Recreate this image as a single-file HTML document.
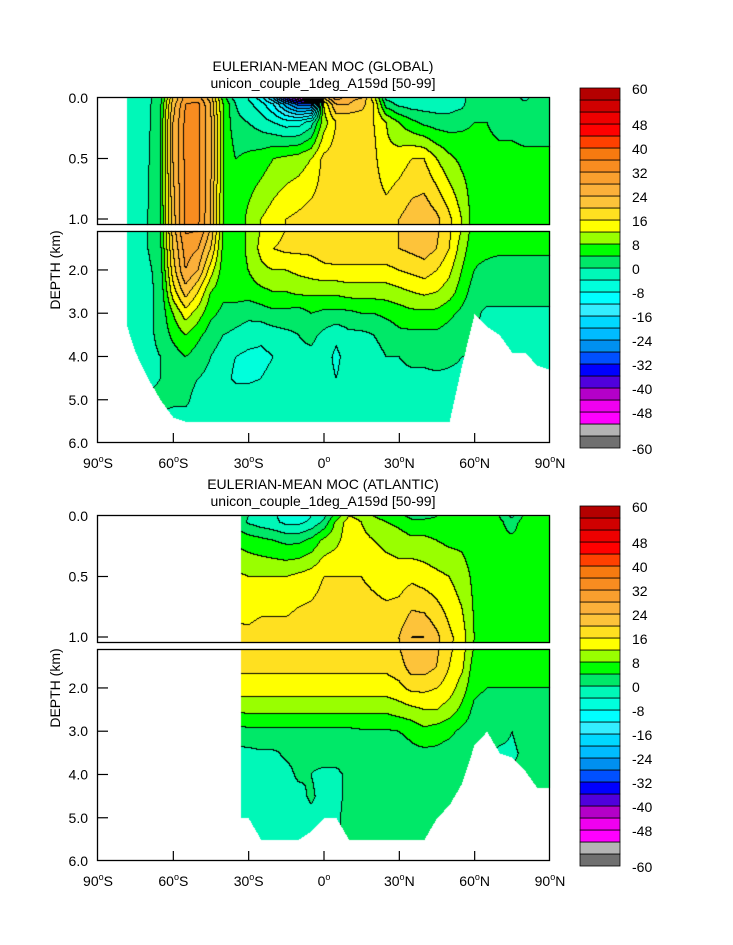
<!DOCTYPE html>
<html><head><meta charset="utf-8">
<style>
body{margin:0;background:#fff;width:733px;height:945px;overflow:hidden;position:relative;font-family:"Liberation Sans",sans-serif;color:#000}
canvas,svg{position:absolute;left:0;top:0}
</style></head><body>
<canvas id="cv" width="733" height="945"></canvas>
<svg id="sv" width="733" height="945"></svg>
<script>
// ---- data ----
const lats=[-90,-85,-80,-75,-70,-65,-60,-55,-50,-45,-40,-35,-30,-25,-20,-15,-10,-5,0,5,10,15,20,25,30,35,40,45,50,55,60,65,70,75,80,85,90];
const depths=[0,0.05,0.2,0.5,1.0,1.5,2.0,2.5,3.0,3.5,4.0,4.5,5.0,5.5];
const levelTicks=[60,48,40,32,24,16,8,0,-8,-16,-24,-32,-40,-48,-60];
const latTicks=["90","60","30","0","30","60","90"];
const globalStart=-78.4;
const globalBottom=[0,0,3.0,3.9,4.5,5.0,5.4,5.5,5.5,5.5,5.5,5.5,5.5,5.5,5.5,5.5,5.5,5.5,5.5,5.5,5.5,5.5,5.5,5.5,5.5,5.5,5.5,5.5,5.5,4.2,3.0,3.3,3.5,3.9,3.9,4.2,4.3];
const globalVals=[
[0,0,0,-1,-1,2,20,30,30,22,6,-2,-4,-10,-20,-35,-45,-55,20,30,25,24,14,-1,-2,-2,-2,-2,-2,-1,2,2,2,2,-1,2,2],
[0,0,0,-1,-1,3,22,32,33,24,8,0,-3,-6,-12,-22,-30,-30,12,24,24,22,16,2,-1,-2,-2,-2,-2,-1,3,3,2,2,1,2,2],
[0,0,0,-1,-1,4,24,33,33,25,8,1,0,-2,-4,-6,-6,-2,10,16,16,16,16,12,8,5,3,2,2,3,4,4,3,3,2,2,2],
[0,0,0,-1,-0.5,4,24,33,33,25,8,4,5,6,8,9,10,12,17,18,18,17,17,13,14,16,16,12,9,7,6,5,5,5,5,5,5],
[0,0,0,-1,0,4,22,33,33,24,8,5,9,12,14,16,17,18,18,19,19,19,18,18,20,22,23,21,17,12,6,5,5,5,5,5,5],
[0,0,0,-2,0,3,20,30,28,20,7,5,9,13,16,17,17,17,18,19,19,19,19,19,20,21,22,20,16,10,5,5,5,5,5,5,5],
[0,0,0,-2,-1,2,18,28,24,14,6,5,8,11,12,12,13,14,15,15,15,15,15,15,16,17,18,16,13,8,4,3,2,2,2,2,2],
[0,0,0,-2,-1,1,14,22,16,8,5,6,6,7,8,8,9,9,9,9,10,10,10,10,11,12,13,12,10,6,2,2,2,2,2,2,2],
[0,0,0,-2,-1,1,8,14,10,5,3,2,1,2,3,3,2,4,3,3,3,4,4,5,6,7,7,7,5,3,1,-1,-1,-1,-1,-1,-1],
[0,0,0,-2,-1,1,5,8,5,2,0,-1,-2,-3,-2,-1,0,1,-1,-3,-1,-1,0,1,3,3,3,3,2,1,0,-1,-1,-1,-1,-1,-1],
[0,0,0,-2,-1,0,2,4,2,0,-2,-4,-5,-5,-4,-2,-1,-1,-2,-5,-2,-1,-1,0,0,1,1,2,1,0,0,-1,-1,-1,-1,-1,-1],
[0,0,0,-2,-1,0,1,1,0,-1,-2,-5,-5,-4,-3,-2,-1,-1,-2,-4,-2,-1,-1,-1,-1,-1,-1,-1,-1,-1,-1,-1,-1,-1,-1,-1,-1],
[0,0,0,-2,0.5,1,0.5,0.5,-1,-1,-1,-1,-1,-1,-1,-1,-1,-1,-1,-1,-1,-1,-1,-1,-1,-1,-1,-1,-1,-1,-1,-1,-1,-1,-1,-1,-1],
[0,0,0,-1,-1,-1,-1,-1,-1,-1,-1,-1,-1,-1,-1,-1,-1,-1,-1,-1,-1,-1,-1,-1,-1,-1,-1,-1,-1,-1,-1,-1,-1,-1,-1,-1,-1]];
const atlStart=-33.2;
const atlBottom=[0,0,0,0,0,0,0,0,0,0,5.0,5.0,5.0,5.5,5.5,5.5,5.5,5.3,5.0,5.0,5.5,5.5,5.5,5.5,5.5,5.5,5.5,5.0,4.7,4.2,3.3,3.0,3.5,3.6,3.9,4.3,4.3];
const atlVals=[
[0,0,0,0,0,0,0,0,0,0,2,2,0,-2,-3,-6,-7,-4,-1,6,12,11,8,6,5,3,3,4,4,5,5,5,4,-1,5,5,5],
[0,0,0,0,0,0,0,0,0,0,3,3,-0.5,-2,-3,-5,-5,-3,1,9,14,12,10,8,7,5,5,5,5,6,6,6,5,2,6,6,6],
[0,0,0,0,0,0,0,0,0,0,7,7,6,5,4,3,3,5,9,11,14,13,12,11,10,9,9,8,7,7,6,6,5,5,6,6,6],
[0,0,0,0,0,0,0,0,0,0,13,13,12,12,12,12,13,14,16,16,16,16,15,14,14,15,14,13,12,10,7,6,6,6,6,6,6],
[0,0,0,0,0,0,0,0,0,0,17,17,17,18,18,18,19,19,19,19,19,19,19,19,20,24,24,21,17,14,8,5,5,5,5,5,5],
[0,0,0,0,0,0,0,0,0,0,17,17,17,17,17,17,17,17,17,17,17,17,17,17,18,22,22,20,16,13,6,5,5,5,5,5,5],
[0,0,0,0,0,0,0,0,0,0,14,14,14,14,14,14,14,14,14,14,14,14,14,14,15,17,17,16,14,10,5,4,4,4,4,4,4],
[0,0,0,0,0,0,0,0,0,0,9,9,9,9,9,9,9,9,9,9,9,9,9,9,10,11,12,12,10,7,3,2,2,2,2,2,2],
[0,0,0,0,0,0,0,0,0,0,2,2,3,3,3,3,3,3,3,3,3,3.5,3.5,3.5,4,5,7,6,5,3,2,2,2,0,2,1,2],
[0,0,0,0,0,0,0,0,0,0,-1,-1,-1,-0.5,-0.5,0.5,1,1,2,2,2,2,2,2,2,3,3,3,2,2,1,1,-1,-1,1,1,1],
[0,0,0,0,0,0,0,0,0,0,-1,-1,-1,-1,-0.5,-1,0.5,0,-1,-1,1,2,2,2,2,2,2,2,2,1.5,1,1,1,1,1,1,1],
[0,0,0,0,0,0,0,0,0,0,-1,-1,-1,-1,-1,-1,-1,0.5,-1,-1,1,1.5,1.5,1.5,1.5,1.5,1.5,1,1,1,1,1,1,1,1,1,1],
[0,0,0,0,0,0,0,0,0,0,-1,-1,-1,-1,-1,-1,-1,-1,-1,-0.5,1,1,1,1,1,1,1,1,1,1,1,1,1,1,1,1,1],
[0,0,0,0,0,0,0,0,0,0,-1,-1,-1,-1,-1,-1,-1,-1,-1,-0.5,1,1,1,1,1,1,1,1,1,1,1,1,1,1,1,1,1]];
const colors=["#707070","#b4b4b4","#ff00ff","#f000f0","#b400c8","#5000dc","#0000ff","#0050ff","#0090f0","#00bcff","#00d8ff","#33eeff","#00ffff","#00ffdc","#00f8b8","#00e868","#00ff00","#99ff00","#ffff00","#ffe020","#fdc33a","#fbb03a","#f99f2e","#f88c20","#f77a10","#ff4000","#ff0000","#ee0000","#d00000","#b40000"];

// ---- geometry ----
const X0=98,X1=550;
function xOf(lat){return X0+(lat+90)*(X1-X0)/180;}
function latOf(x){return (x-X0)*180/(X1-X0)-90;}
function depthOf(y,off){
  const yy=y-off;
  if(yy>=98&&yy<225) return (yy-98)/121;
  if(yy>=231&&yy<443) return 1.1+(yy-231)/43.27;
  return null;
}
function yOfDepth(d,off){return d<=1.05? off+98+d*121 : off+231+(d-1.1)*43.27;}
function interp1(arr,lat){
  let i=Math.min(lats.length-2,Math.max(0,Math.floor((lat+90)/5)));
  const t=(lat-lats[i])/5;return arr[i]*(1-t)+arr[i+1]*t;
}
function field(vals,lat,d){
  let i=Math.min(lats.length-2,Math.max(0,Math.floor((lat+90)/5)));
  const t=Math.min(1,Math.max(0,(lat-lats[i])/5));
  let j=0;while(j<depths.length-2&&d>depths[j+1])j++;
  const u=Math.min(1,Math.max(0,(d-depths[j])/(depths[j+1]-depths[j])));
  const a=vals[j][i]*(1-t)+vals[j][i+1]*t, b=vals[j+1][i]*(1-t)+vals[j+1][i+1]*t;
  return a*(1-u)+b*u;
}
function lvl(v){return Math.max(0,Math.min(29,Math.floor((v+60)/4)));}
function hex(c){return [parseInt(c.substr(1,2),16),parseInt(c.substr(3,2),16),parseInt(c.substr(5,2),16)];}
const rgb=colors.map(hex);

const cv=document.getElementById('cv'),ctx=cv.getContext('2d');
ctx.fillStyle='#fff';ctx.fillRect(0,0,733,945);
function drawField(vals,start,bottom,off){
  const W=X1-X0,H=345;
  const img=ctx.createImageData(W,H);
  const L=new Int16Array(W*H).fill(-1);
  for(let y=0;y<H;y++){const d=depthOf(y+98+off,off);if(d===null)continue;
    for(let x=0;x<W;x++){const lat=latOf(x+X0+0.5);
      if(lat<start||d>interp1(bottom,lat))continue;
      L[y*W+x]=lvl(field(vals,lat,d));}}
  for(let y=0;y<H;y++)for(let x=0;x<W;x++){const k=y*W+x,p=k*4;let l=L[k];
    if(l<0){img.data[p]=img.data[p+1]=img.data[p+2]=255;img.data[p+3]=255;continue;}
    let c=rgb[l];
    if((x+1<W&&L[k+1]>=0&&L[k+1]!==l)||(y+1<H&&L[k+W]>=0&&L[k+W]!==l))c=[0,0,0];
    img.data[p]=c[0];img.data[p+1]=c[1];img.data[p+2]=c[2];img.data[p+3]=255;}
  ctx.putImageData(img,X0,98+off);
}
drawField(globalVals,globalStart,globalBottom,0);
drawField(atlVals,atlStart,atlBottom,418);

// ---- axes / labels ----
const sv=document.getElementById('sv');const NS='http://www.w3.org/2000/svg';
function el(tag,at,parent){const e=document.createElementNS(NS,tag);for(const k in at)e.setAttribute(k,at[k]);(parent||sv).appendChild(e);return e;}
function txt(s,x,y,anchor,size,parent){const e=el('text',{x:x,y:y,'text-anchor':anchor,'font-size':size||14,'font-family':'Liberation Sans, sans-serif'},parent);e.textContent=s;return e;}
const titles=[["EULERIAN-MEAN MOC (GLOBAL)",0],["EULERIAN-MEAN MOC (ATLANTIC)",418]];
titles.forEach(([tt,off],ci)=>{
  const g=el('g',{});
  
  
  const t1=txt(tt,323,71+off,'middle',14,g);
  
  
  const t2=txt("unicon_couple_1deg_A159d [50-99]",323,88+off,'middle',14,g);
  
  
  el('rect',{x:97.5,y:97.5+off,width:452,height:127,fill:'none',stroke:'#000','stroke-width':1.3},g);
  el('rect',{x:97.5,y:231.5+off,width:452,height:211,fill:'none',stroke:'#000','stroke-width':1.3},g);
  const yt=[[0,"0.0"],[0.5,"0.5"],[1.0,"1.0"],[2,"2.0"],[3,"3.0"],[4,"4.0"],[5,"5.0"],[6,"6.0"]];
  yt.forEach(([d,s])=>{let y=d===6?443+off:yOfDepth(d,off);
    if(d>0&&d<6)el('line',{x1:98,x2:108,y1:y,y2:y,stroke:'#000','stroke-width':1.2},g);
    const l=txt(s,88,y+5,'end',14,g);
    
    });
  const yl=txt("DEPTH (km)",0,0,'middle',14,g);
  yl.setAttribute('transform','translate(60,'+(270+off)+') rotate(-90)');
  
  
  [-90,-60,-30,0,30,60,90].forEach((lat,i)=>{const x=xOf(lat);
    if(lat>-90&&lat<90)el('line',{x1:x,x2:x,y1:443+off,y2:433+off,stroke:'#000','stroke-width':1.2},g);
    const t=el('text',{x:x,y:468+off,'text-anchor':'middle','font-size':14,'font-family':'Liberation Sans, sans-serif'},g);
    
    
    const a=document.createElementNS(NS,'tspan');a.textContent=latTicks[i];t.appendChild(a);
    const o=document.createElementNS(NS,'tspan');o.setAttribute('font-size','9');o.setAttribute('dy','-6');o.textContent='o';t.appendChild(o);
    const h=document.createElementNS(NS,'tspan');h.setAttribute('dy','6');h.textContent=lat<0?'S':(lat>0?'N':'');t.appendChild(h);
  });
  const cb=el('g',{},g);
  
  
  const top=88+off;
  colors.forEach((c,k)=>{const r=el('rect',{x:580,y:top+(29-k)*12,width:40,height:12,fill:c,stroke:'#000','stroke-width':0.8},cb);
    
    });
  levelTicks.forEach(v=>{const l=txt(String(v),632,top+(60-v)*3+6,'start',14,cb);
    
    });
});
</script>
</body></html>
